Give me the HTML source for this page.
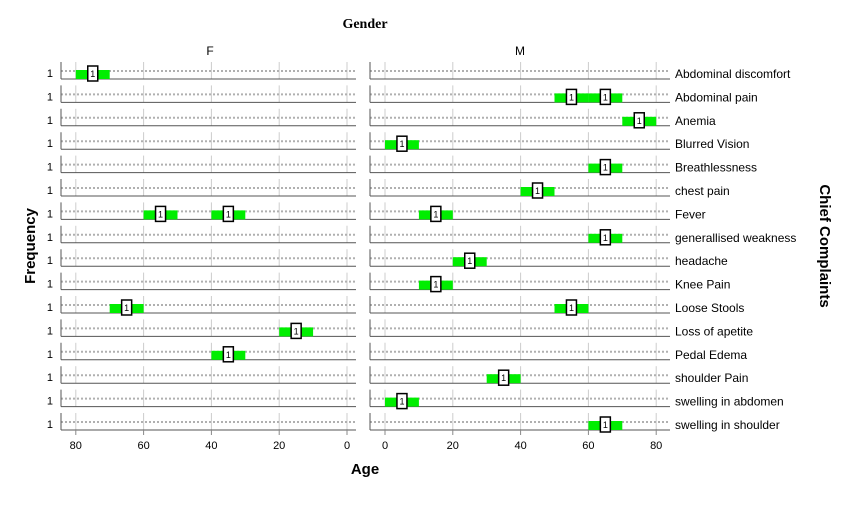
<!DOCTYPE html><html><head><meta charset="utf-8"><style>body{margin:0;background:#fff}svg{display:block}text{font-family:"Liberation Sans",sans-serif}</style></head><body>
<svg id="s" width="854" height="524" xmlns="http://www.w3.org/2000/svg">
<rect width="854" height="524" fill="#fff"/>
<text x="365" y="28" font-family="Liberation Serif" font-weight="bold" font-size="14" text-anchor="middle" style="font-family:'Liberation Serif',serif">Gender</text>
<text x="210" y="55" font-size="12" text-anchor="middle">F</text>
<text x="520" y="55" font-size="12" text-anchor="middle">M</text>
<text x="365" y="474" font-size="15" font-weight="bold" text-anchor="middle">Age</text>
<text transform="translate(35,246) rotate(-90)" font-size="15" font-weight="bold" text-anchor="middle">Frequency</text>
<text transform="translate(820,246) rotate(90)" font-size="15" font-weight="bold" text-anchor="middle">Chief Complaints</text>
<g id="g"></g>
</svg>
<script>
const names=["Abdominal discomfort","Abdominal pain","Anemia","Blurred Vision","Breathlessness","chest pain","Fever","generallised weakness","headache","Knee Pain","Loose Stools","Loss of apetite","Pedal Edema","shoulder Pain","swelling in abdomen","swelling in shoulder"];
const F={0:[75],6:[55,35],10:[65],11:[15],12:[35]};
const M={1:[55,65],2:[75],3:[5],4:[65],5:[45],6:[15],7:[65],8:[25],9:[15],10:[55],13:[35],14:[5],15:[65]};
const k=3.39;const fx=v=>347-v*k, mx=v=>385+v*k;
let h="";
for(let i=0;i<16;i++){const b=62+i*23.4;
 h+=`<text x="53" y="${b+15}" font-size="11" text-anchor="end">1</text>`;
 h+=`<text x="675" y="${b+16}" font-size="12">${names[i]}</text>`;
 for(const [x0,x1,f] of [[61,356,fx],[370,670,mx]]){
  for(let t=0;t<=80;t+=20){h+=`<line x1="${f(t)}" x2="${f(t)}" y1="${b}" y2="${b+17}" stroke="#ccc"/>`;}
  h+=`<line x1="${x0}" x2="${x1}" y1="${b+9}" y2="${b+9}" stroke="#b0b0b0" stroke-width="2" stroke-dasharray="2,2"/>`;
  h+=`<line x1="${x0}" x2="${x0}" y1="${b}" y2="${b+17}" stroke="#555"/>`;
  h+=`<line x1="${x0}" x2="${x1}" y1="${b+17}" y2="${b+17}" stroke="#555"/>`;
 }
 for(const [D,f] of [[F,fx],[M,mx]]){(D[i]||[]).forEach(v=>{const a=Math.min(f(v-5),f(v+5));h+=`<rect x="${a}" y="${b+8}" width="${10*k}" height="9" fill="#00ee00"/>`;});
  (D[i]||[]).forEach(v=>{h+=`<rect x="${f(v)-5}" y="${b+4}" width="10" height="15" fill="#fff" stroke="#000" stroke-width="1.5"/><text x="${f(v)}" y="${b+15}" font-size="9" text-anchor="middle">1</text>`;});}
}
const yb=62+15*23.4;
for(let t=0;t<=80;t+=20){h+=`<line x1="${fx(t)}" x2="${fx(t)}" y1="${yb+17}" y2="${yb+22}" stroke="#888"/><text x="${fx(t)}" y="${yb+36}" font-size="11" text-anchor="middle">${t}</text>`;
 h+=`<line x1="${mx(t)}" x2="${mx(t)}" y1="${yb+17}" y2="${yb+22}" stroke="#888"/><text x="${mx(t)}" y="${yb+36}" font-size="11" text-anchor="middle">${t}</text>`;}
document.getElementById("g").innerHTML=h;
</script>
</body></html>
